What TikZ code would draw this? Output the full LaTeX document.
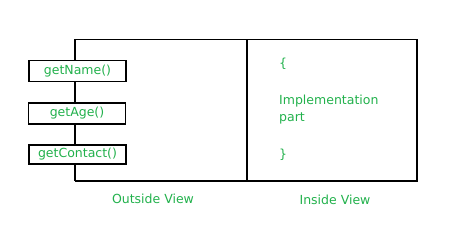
\documentclass[tikz,border=0pt]{standalone}
\usepackage{fontspec}
\setmainfont{DejaVu Sans}
\usetikzlibrary{positioning}
\definecolor{txt}{HTML}{22B14C}
\begin{document}
\begin{tikzpicture}[
  x=1pt, y=1pt,
  font=\fontsize{12.5}{17}\selectfont,
  frame/.style={draw=black, line width=1.1pt},
  meth/.style={draw=black, line width=1.1pt, fill=white, text=txt, minimum width=97pt, minimum height=21pt, inner sep=0pt},
  lbl/.style={text=txt, inner sep=0pt, anchor=west}
]
\useasboundingbox (0,0) rectangle (459,225);
\coordinate (tl) at (75,185.5);
\coordinate (br) at (417,44);
\coordinate (mt) at (247,185.5);
\coordinate (mb) at (247,44);
\coordinate (bl) at (75,44);

\draw[frame] (tl) -- (tl -| br) -- (br) -- (bl);
\draw[frame] (mt) -- (mb);
\draw[frame] (tl) -- (bl);

\node[meth] (name) at (77.5,154) {getName()};
\node[meth] (age) at (77,111.5) {getAge()};
\node[meth, minimum height=19pt] (contact) at (77.5,70.5) {getContact()};

\node[lbl] (ob) at (279,161) {\{};
\node[lbl, align=left] (impl) at (279,115.5) {Implementation\\part};
\node[lbl] (cb) at (279,70) {\}};

\node[text=txt] (out) at (153,26) {Outside View};
\node[text=txt] (in) at (335,25) {Inside View};
\end{tikzpicture}
\end{document}
